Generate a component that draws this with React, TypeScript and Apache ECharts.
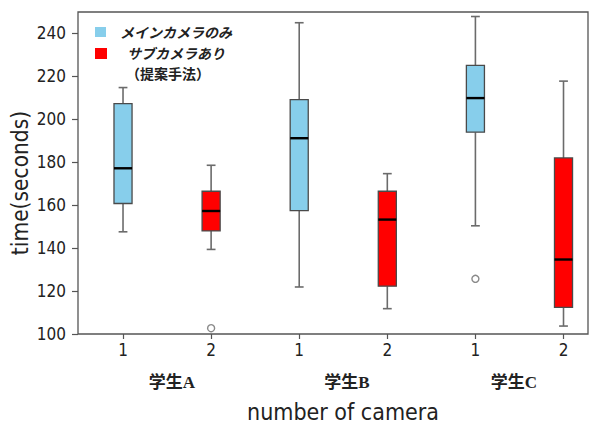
import React, { useEffect, useRef } from "react";
import * as echarts from "echarts";

// ---- data ----
const groups = ["学生A", "学生B", "学生C"];
const cameraTickLabels = ["1", "2", "1", "2", "1", "2"];
const boxPositions = [1, 2, 3, 4, 5, 6];
// [min whisker, Q1, median, Q3, max whisker]
const mainCamera = [
  [147.6, 160.8, 177.2, 207.3, 214.8],
  [121.9, 157.5, 191.2, 209.2, 245.0],
  [150.4, 194.0, 209.9, 225.1, 247.9],
];
const subCamera = [
  [139.4, 148.0, 157.3, 166.5, 178.6],
  [111.8, 122.3, 153.3, 166.5, 174.7],
  [103.7, 112.4, 134.7, 182.0, 217.8],
];
const mainOutliers = [[], [], [125.7]];
const subOutliers = [[102.7], [], []];
const yTicks = [100, 120, 140, 160, 180, 200, 220, 240];
const legendNames = ["メインカメラのみ", "サブカメラあり"];
const legendNote = "（提案手法）";

const BLUE = "#87CEEB";
const RED = "#FF0000";

export default function App() {
  const ref = useRef<HTMLDivElement>(null);
  useEffect(() => {
    if (!ref.current) return;
    const chart = echarts.init(ref.current, null, { renderer: "svg" });

    const boxData: any[] = [];
    const outlierData: any[] = [];
    groups.forEach((g, i) => {
      const p1 = boxPositions[i * 2];
      const p2 = boxPositions[i * 2 + 1];
      boxData.push({ value: [p1, ...mainCamera[i]], itemStyle: { color: BLUE } });
      boxData.push({ value: [p2, ...subCamera[i]], itemStyle: { color: RED } });
      mainOutliers[i].forEach((v) => outlierData.push([p1, v]));
      subOutliers[i].forEach((v) => outlierData.push([p2, v]));
    });

    const renderItem = (params: any, api: any) => {
      const x = api.value(0);
      const lo = api.coord([x, api.value(1)]);
      const q1 = api.coord([x, api.value(2)]);
      const med = api.coord([x, api.value(3)]);
      const q3 = api.coord([x, api.value(4)]);
      const hi = api.coord([x, api.value(5)]);
      const bw = api.size([0.205, 0])[0];
      const cw = api.size([0.1, 0])[0];
      const fill = api.visual("color");
      const cx = lo[0];
      const wStyle = { stroke: "#6b6b6b", lineWidth: 1.6 };
      return {
        type: "group",
        children: [
          { type: "line", shape: { x1: cx, y1: hi[1], x2: cx, y2: q3[1] }, style: wStyle },
          { type: "line", shape: { x1: cx, y1: q1[1], x2: cx, y2: lo[1] }, style: wStyle },
          { type: "line", shape: { x1: cx - cw / 2, y1: hi[1], x2: cx + cw / 2, y2: hi[1] }, style: wStyle },
          { type: "line", shape: { x1: cx - cw / 2, y1: lo[1], x2: cx + cw / 2, y2: lo[1] }, style: wStyle },
          {
            type: "rect",
            shape: { x: cx - bw / 2, y: q3[1], width: bw, height: q1[1] - q3[1] },
            style: { fill, stroke: "#4a4a4a", lineWidth: 1.3 },
          },
          {
            type: "line",
            shape: { x1: cx - bw / 2, y1: med[1], x2: cx + bw / 2, y2: med[1] },
            style: { stroke: "#000", lineWidth: 2.4 },
          },
        ],
      };
    };

    const sansCond = "'DejaVu Sans Condensed', 'DejaVu Sans', sans-serif";
    const cjkFont = "'Liberation Serif', 'Noto Sans CJK JP', serif";

    chart.setOption({
      animation: false,
      grid: {
        left: 78,
        right: 8,
        top: 12,
        bottom: 93,
        show: true,
        borderColor: "#555",
        borderWidth: 1.3,
        backgroundColor: "transparent",
      },
      xAxis: {
        type: "value",
        min: 0.489,
        max: 6.278,
        splitLine: { show: false },
        axisLine: { show: false },
        axisTick: { show: true, customValues: boxPositions, length: 5, lineStyle: { color: "#555", width: 1.2 } },
        axisLabel: {
          customValues: boxPositions,
          formatter: (v: number) => cameraTickLabels[boxPositions.indexOf(Math.round(v))] ?? "",
          fontSize: 17,
          fontFamily: sansCond,
          color: "#222",
          margin: 7,
        },
      },
      yAxis: {
        type: "value",
        min: 100,
        max: 250,
        interval: 20,
        splitLine: { show: false },
        axisLine: { show: false },
        axisTick: { show: true, customValues: yTicks, length: 6, lineStyle: { color: "#555", width: 1.2 } },
        axisLabel: {
          customValues: yTicks,
          fontSize: 17,
          fontFamily: sansCond,
          color: "#222",
          margin: 12,
        },
      },
      series: [
        {
          type: "custom",
          renderItem,
          encode: { x: 0, y: [1, 2, 3, 4, 5] },
          data: boxData,
          clip: false,
        },
        {
          type: "scatter",
          data: outlierData,
          symbol: "circle",
          symbolSize: 7,
          itemStyle: { color: "#fff", borderColor: "#6b6b6b", borderWidth: 1.4 },
        },
      ],
      graphic: [
        { type: "rect", shape: { x: 95, y: 27, width: 11, height: 10 }, style: { fill: BLUE } },
        { type: "rect", shape: { x: 95, y: 48, width: 12, height: 11 }, style: { fill: RED } },
        {
          type: "text",
          x: 176,
          y: 32,
          style: {
            text: legendNames[0],
            font: "bold italic 14px 'Noto Sans CJK JP'",
            fill: "#222",
            textAlign: "center",
            textVerticalAlign: "middle",
          },
        },
        {
          type: "text",
          x: 176,
          y: 53,
          style: {
            text: legendNames[1],
            font: "bold italic 14px 'Noto Sans CJK JP'",
            fill: "#222",
            textAlign: "center",
            textVerticalAlign: "middle",
          },
        },
        {
          type: "text",
          x: 168,
          y: 73,
          style: {
            text: legendNote,
            font: "bold 14px 'Noto Sans CJK JP'",
            fill: "#222",
            textAlign: "center",
            textVerticalAlign: "middle",
          },
        },
        ...groups.map((g, i) => ({
          type: "text",
          x: [172, 347, 514][i],
          y: 382,
          style: {
            text: g,
            font: `bold 17px ${cjkFont}`,
            fill: "#222",
            textAlign: "center",
            textVerticalAlign: "middle",
          },
        })),
        {
          type: "text",
          x: 343,
          y: 412,
          style: {
            text: "number of camera",
            font: `23px ${sansCond}`,
            fill: "#222",
            textAlign: "center",
            textVerticalAlign: "middle",
          },
        },
        {
          type: "text",
          x: 20,
          y: 183,
          rotation: Math.PI / 2,
          style: {
            text: "time(seconds)",
            font: `22.5px ${sansCond}`,
            fill: "#222",
            textAlign: "center",
            textVerticalAlign: "middle",
          },
        },
      ],
    });
    return () => chart.dispose();
  }, []);
  return (
    <div
      ref={ref}
      style={{ position: "fixed", left: 0, top: 0, width: 596, height: 427, background: "#fff" }}
    />
  );
}
